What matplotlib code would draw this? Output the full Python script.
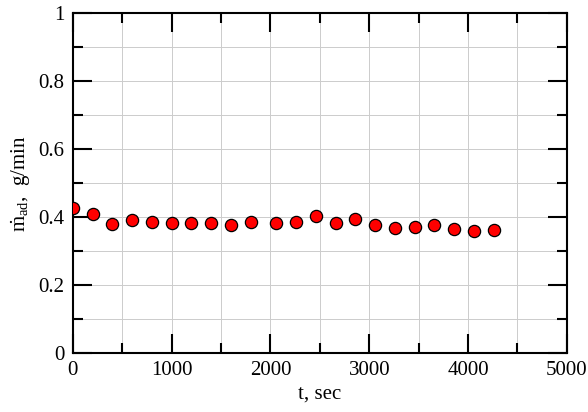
import matplotlib
matplotlib.use("Agg")
import matplotlib.pyplot as plt
from matplotlib.ticker import MultipleLocator

# data
t_sec = [0, 200, 400, 600, 800, 1000, 1200, 1400, 1600, 1800,
         2060, 2260, 2460, 2660, 2860, 3060, 3260, 3460, 3660, 3860, 4060, 4260]
m_ad = [0.428, 0.409, 0.379, 0.391, 0.385, 0.384, 0.382, 0.382, 0.378, 0.387,
        0.382, 0.387, 0.403, 0.383, 0.395, 0.377, 0.369, 0.372, 0.377, 0.365, 0.358, 0.363]

plt.rcParams['font.family'] = ['Liberation Serif', 'DejaVu Serif']
plt.rcParams['mathtext.fontset'] = 'custom'
plt.rcParams['mathtext.rm'] = 'Liberation Serif'
plt.rcParams['mathtext.it'] = 'Liberation Serif'

fig = plt.figure(figsize=(5.88, 4.12), dpi=100)
ax = fig.add_axes([0.124, 0.143, 0.840, 0.825])

ax.plot(t_sec, m_ad, 'o', ms=8.8, mfc='#ff0000', mec='black', mew=0.9, zorder=3)

ax.set_xlim(0, 5000)
ax.set_ylim(0, 1)
ax.xaxis.set_major_locator(MultipleLocator(1000))
ax.xaxis.set_minor_locator(MultipleLocator(500))
ax.yaxis.set_minor_locator(MultipleLocator(0.1))
ax.set_yticks([0, 0.2, 0.4, 0.6, 0.8, 1.0])
ax.set_yticklabels(['0', '0.2', '0.4', '0.6', '0.8', '1'])

ax.grid(True, which='both', color='#cccccc', lw=0.7)
ax.set_axisbelow(True)

ax.tick_params(which='both', direction='in', top=True, right=True, width=1.5, labelsize=15, pad=6)
ax.tick_params(which='major', length=14)
ax.tick_params(which='minor', length=7)
for s in ax.spines.values():
    s.set_linewidth(1.5)

ax.set_xlabel('t, sec', fontsize=15, labelpad=3)
ax.set_ylabel(r'$\dot{\mathrm{m}}_{\mathrm{ad}}$,  g/min', fontsize=15, labelpad=4)

fig.savefig('out.png', dpi=100)
